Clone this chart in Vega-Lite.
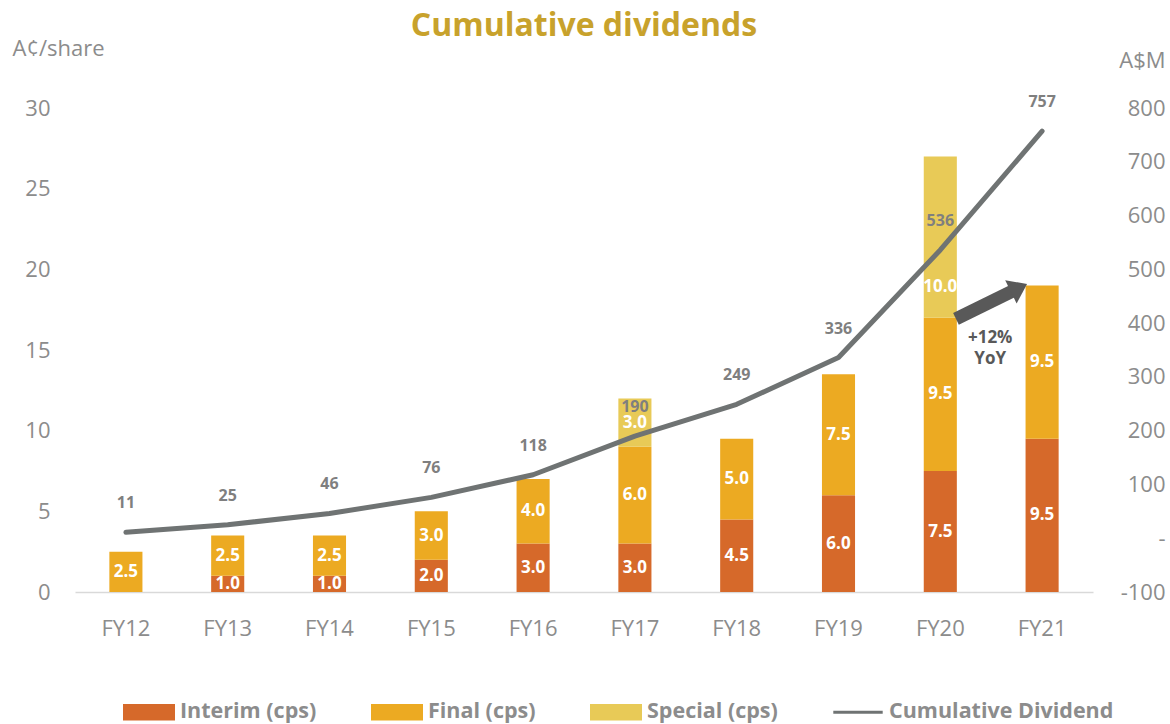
{
  "$schema": "https://vega.github.io/schema/vega-lite/v6.json",
  "width": 1018,
  "height": 484,
  "autosize": {"type": "none"},
  "padding": {"left": 75, "top": 108, "right": 77, "bottom": 132},
  "background": "white",
  "title": {
    "text": "Cumulative dividends",
    "fontSize": 32,
    "fontWeight": "bold",
    "font": "Open Sans",
    "color": "#C8A22C",
    "anchor": "middle",
    "frame": "group",
    "baseline": "alphabetic",
    "offset": -31
  },
  "config": {
    "font": "Open Sans",
    "view": {"stroke": null},
    "axis": {"grid": false, "ticks": false, "domain": false, "labelFont": "Open Sans", "titleFont": "Open Sans"},
    "legend": {
      "orient": "none",
      "legendX": 48,
      "legendY": 578,
      "direction": "horizontal",
      "title": null,
      "labelFont": "Open Sans",
      "labelFontSize": 21.5,
      "labelFontWeight": "bold",
      "labelColor": "#8C8C8C",
      "labelLimit": 0,
      "symbolSize": 2704,
      "labelOffset": 5,
      "columnPadding": 54,
      "symbolStrokeWidth": 0
    }
  },
  "datasets": {
    "bars": [
      {"year": "FY12", "type": "Final (cps)", "seq": 2, "cps": 2.5},
      {"year": "FY13", "type": "Interim (cps)", "seq": 1, "cps": 1.0},
      {"year": "FY13", "type": "Final (cps)", "seq": 2, "cps": 2.5},
      {"year": "FY14", "type": "Interim (cps)", "seq": 1, "cps": 1.0},
      {"year": "FY14", "type": "Final (cps)", "seq": 2, "cps": 2.5},
      {"year": "FY15", "type": "Interim (cps)", "seq": 1, "cps": 2.0},
      {"year": "FY15", "type": "Final (cps)", "seq": 2, "cps": 3.0},
      {"year": "FY16", "type": "Interim (cps)", "seq": 1, "cps": 3.0},
      {"year": "FY16", "type": "Final (cps)", "seq": 2, "cps": 4.0},
      {"year": "FY17", "type": "Interim (cps)", "seq": 1, "cps": 3.0},
      {"year": "FY17", "type": "Final (cps)", "seq": 2, "cps": 6.0},
      {"year": "FY17", "type": "Special (cps)", "seq": 3, "cps": 3.0},
      {"year": "FY18", "type": "Interim (cps)", "seq": 1, "cps": 4.5},
      {"year": "FY18", "type": "Final (cps)", "seq": 2, "cps": 5.0},
      {"year": "FY19", "type": "Interim (cps)", "seq": 1, "cps": 6.0},
      {"year": "FY19", "type": "Final (cps)", "seq": 2, "cps": 7.5},
      {"year": "FY20", "type": "Interim (cps)", "seq": 1, "cps": 7.5},
      {"year": "FY20", "type": "Final (cps)", "seq": 2, "cps": 9.5},
      {"year": "FY20", "type": "Special (cps)", "seq": 3, "cps": 10.0},
      {"year": "FY21", "type": "Interim (cps)", "seq": 1, "cps": 9.5},
      {"year": "FY21", "type": "Final (cps)", "seq": 2, "cps": 9.5}
    ],
    "cum": [
      {"year": "FY12", "cum": 11},
      {"year": "FY13", "cum": 25},
      {"year": "FY14", "cum": 46},
      {"year": "FY15", "cum": 76},
      {"year": "FY16", "cum": 118},
      {"year": "FY17", "cum": 190},
      {"year": "FY18", "cum": 249},
      {"year": "FY19", "cum": 336},
      {"year": "FY20", "cum": 536},
      {"year": "FY21", "cum": 757}
    ]
  },
  "layer": [
    {
      "encoding": {
        "x": {
          "field": "year",
          "type": "nominal",
          "title": null,
          "scale": {"paddingInner": 0.675, "paddingOuter": 0.3375},
          "axis": {
            "labelAngle": 0,
            "labelFontSize": 22,
            "labelColor": "#8C8C8C",
            "labelBaseline": "middle",
            "labelPadding": 36,
            "domain": true,
            "domainColor": "#D9D9D9",
            "domainWidth": 1.5
          }
        }
      },
      "layer": [
        {
          "layer": [
            {
              "data": {"name": "bars"},
              "mark": {"type": "bar"},
              "encoding": {
                "y": {
                  "field": "cps",
                  "type": "quantitative",
                  "stack": "zero",
                  "scale": {"domain": [0, 30], "nice": false},
                  "axis": {
                    "orient": "left",
                    "values": [0, 5, 10, 15, 20, 25, 30],
                    "labelFontSize": 22,
                    "labelColor": "#8C8C8C",
                    "labelPadding": 25,
                    "title": "A¢/share",
                    "titleFontSize": 22,
                    "titleFontWeight": "normal",
                    "titleColor": "#8C8C8C",
                    "titleAngle": 0,
                    "titleAlign": "left",
                    "titleBaseline": "middle",
                    "titleX": -63,
                    "titleY": -60
                  }
                },
                "order": {"field": "seq", "type": "quantitative", "sort": "ascending"},
                "color": {
                  "field": "type",
                  "type": "nominal",
                  "scale": {
                    "domain": ["Interim (cps)", "Final (cps)", "Special (cps)", "Cumulative Dividend"],
                    "range": ["#D6692A", "#ECAA22", "#E8CA57", "#6F7373"]
                  },
                  "legend": {
                    "encode": {
                      "symbols": {
                        "update": {
                          "shape": {"signal": "datum.value === 'Cumulative Dividend' ? 'M-0.95,-0.06H0.95V0.06H-0.95Z' : 'M-1,-0.32H1V0.32H-1Z'"},
                          "fill": {"signal": "scale('color', datum.value)"},
                          "stroke": {"value": "transparent"},
                          "opacity": {"value": 1}
                        }
                      }
                    }
                  }
                }
              }
            },
            {
              "data": {"name": "bars"},
              "transform": [
                {"filter": "!(datum.year === 'FY20' && datum.type === 'Special (cps)')"},
                {"stack": "cps", "groupby": ["year"], "sort": [{"field": "seq", "order": "ascending"}], "as": ["y0", "y1"]},
                {"fold": ["y0", "y1"], "as": ["edge", "pos"]},
                {"aggregate": [{"op": "mean", "field": "pos", "as": "mid"}], "groupby": ["year", "type", "cps"]}
              ],
              "mark": {"type": "text", "color": "white", "fontWeight": "bold", "fontSize": 17, "baseline": "middle"},
              "encoding": {
                "y": {"field": "mid", "type": "quantitative"},
                "text": {"field": "cps", "type": "quantitative", "format": ".1f"}
              }
            },
            {
              "data": {"name": "bars"},
              "transform": [
                {"stack": "cps", "groupby": ["year"], "sort": [{"field": "seq", "order": "ascending"}], "as": ["y0", "y1"]},
                {"filter": "datum.year === 'FY20' && datum.type === 'Special (cps)'"}
              ],
              "mark": {"type": "text", "color": "white", "fontWeight": "bold", "fontSize": 17, "baseline": "middle", "dy": -31},
              "encoding": {
                "y": {"field": "y0", "type": "quantitative"},
                "text": {"field": "cps", "type": "quantitative", "format": ".1f"}
              }
            }
          ]
        },
        {
          "data": {"name": "cum"},
          "layer": [
            {
              "mark": {"type": "line", "strokeWidth": 5, "strokeCap": "round", "strokeJoin": "round"},
              "encoding": {
                "y": {
                  "field": "cum",
                  "type": "quantitative",
                  "scale": {"domain": [-100, 800], "nice": false},
                  "axis": {
                    "orient": "right",
                    "values": [-100, 0, 100, 200, 300, 400, 500, 600, 700, 800],
                    "labelExpr": "datum.value === 0 ? '-' : (datum.value < 0 ? '-' + abs(datum.value) : '' + datum.value)",
                    "labelFontSize": 22,
                    "labelColor": "#8C8C8C",
                    "labelAlign": "right",
                    "labelPadding": 72,
                    "title": "A$M",
                    "titleFontSize": 22,
                    "titleFontWeight": "normal",
                    "titleColor": "#8C8C8C",
                    "titleAngle": 0,
                    "titleAlign": "right",
                    "titleBaseline": "middle",
                    "titleX": 72,
                    "titleY": -48
                  }
                },
                "color": {"datum": "Cumulative Dividend"}
              }
            },
            {
              "mark": {"type": "text", "color": "#7F7F7F", "fontWeight": "bold", "fontSize": 16, "baseline": "middle", "dy": -29},
              "encoding": {
                "y": {"field": "cum", "type": "quantitative"},
                "text": {"field": "cum", "type": "quantitative"}
              }
            }
          ]
        }
      ],
      "resolve": {"scale": {"y": "independent"}}
    },
    {
      "data": {"values": [{}]},
      "mark": {"type": "rule", "color": "#595959", "strokeWidth": 13, "strokeCap": "butt"},
      "encoding": {
        "x": {"datum": 8.654, "type": "quantitative", "scale": {"domain": [0, 10], "nice": false, "zero": false}, "axis": null},
        "x2": {"datum": 9.214},
        "y": {"datum": 16.93, "type": "quantitative", "scale": {"domain": [0, 30], "nice": false}, "axis": null},
        "y2": {"datum": 18.66}
      }
    },
    {
      "data": {"values": [{}]},
      "mark": {"type": "point", "filled": true, "color": "#595959", "opacity": 1, "shape": "M1,0L-1,1.44L-1,-1.44Z", "size": 324, "angle": -26.2},
      "encoding": {
        "x": {"datum": 9.273, "type": "quantitative", "scale": {"domain": [0, 10], "nice": false, "zero": false}, "axis": null},
        "y": {"datum": 18.85, "type": "quantitative", "scale": {"domain": [0, 30], "nice": false}, "axis": null}
      }
    },
    {
      "data": {"values": [{}]},
      "mark": {"type": "text", "text": ["+12%", "YoY"], "color": "#595959", "fontWeight": "bold", "fontSize": 17, "lineHeight": 21, "baseline": "middle", "align": "center"},
      "encoding": {
        "x": {"datum": 8.99, "type": "quantitative", "scale": {"domain": [0, 10], "nice": false, "zero": false}, "axis": null},
        "y": {"datum": 15.72, "type": "quantitative", "scale": {"domain": [0, 30], "nice": false}, "axis": null}
      }
    }
  ],
  "resolve": {"scale": {"x": "independent", "y": "independent"}}
}
